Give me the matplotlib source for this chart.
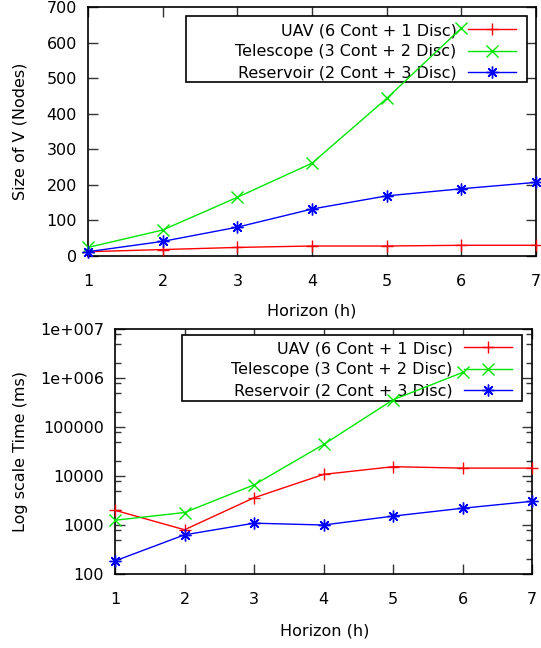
import matplotlib
matplotlib.use('Agg')
import matplotlib.pyplot as plt
from matplotlib.patches import Rectangle
from matplotlib.ticker import FixedLocator, NullFormatter

horizon = [1, 2, 3, 4, 5, 6, 7]
labels = ['UAV (6 Cont + 1 Disc)', 'Telescope (3 Cont + 2 Disc)', 'Reservoir (2 Cont + 3 Disc)']

# size of V (nodes)
uav_nodes = [12, 18, 24, 28, 28, 30, 30]
telescope_nodes = [24, 73, 165, 261, 443, 641]
reservoir_nodes = [12, 41, 81, 132, 169, 189, 207]

# time (ms)
uav_time = [2000, 800, 3600, 10800, 15500, 14500, 14500]
telescope_time = [1250, 1800, 6600, 44000, 360000, 1300000]
reservoir_time = [185, 630, 1090, 1000, 1520, 2200, 3050]

log_ticks = [100, 1000, 10000, 100000, 1000000, 10000000]
log_tick_labels = ['100', '1000', '10000', '100000', '1e+006', '1e+007']

colors = ['#ff0000', '#00e600', '#0000ff']
markers = ['+', 'x', (8, 2, 0)]

plt.rcParams['font.family'] = 'DejaVu Sans'
plt.rcParams['font.size'] = 11.5

fig = plt.figure(figsize=(5.41, 6.48), dpi=100)
ax1 = fig.add_axes([0.1627, 0.605, 0.828, 0.384])
ax2 = fig.add_axes([0.2126, 0.1142, 0.771, 0.378])


def draw(ax, series, box, leg_y):
    for (xs, ys), lab, c, m in zip(series, labels, colors, markers):
        ax.plot(xs, ys, color=c, marker=m, markersize=8.5, markeredgewidth=1,
                linewidth=1, label=lab, clip_on=False, zorder=3)
    ax.set_xlim(1, 7)
    ax.set_xticks(horizon)
    ax.set_xlabel('Horizon (h)')
    ax.tick_params(which='both', direction='in', top=True, right=True,
                   color='#333333', width=1)
    ax.tick_params(which='major', length=7)
    ax.tick_params(axis='x', which='major', pad=13)
    ax.tick_params(axis='y', which='major', pad=8)
    ax.tick_params(which='minor', length=4)
    for s in ax.spines.values():
        s.set_linewidth(1.2)
    x0, y0, x1, y1 = box
    ax.add_patch(Rectangle((x0, y0), x1 - x0, y1 - y0, transform=ax.transAxes,
                           facecolor='white', edgecolor='black', linewidth=1.2, zorder=2))
    leg = ax.legend(loc='upper right', bbox_to_anchor=(x1 - 0.025, leg_y),
                    markerfirst=False, frameon=False, borderpad=0, borderaxespad=0,
                    handlelength=3.0, handletextpad=0.7, labelspacing=0.38, numpoints=1)
    leg.set_zorder(2.5)
    return leg


draw(ax1, [(horizon, uav_nodes), (horizon[:6], telescope_nodes), (horizon, reservoir_nodes)],
     (0.219, 0.699, 0.980, 0.964), 0.936)
ax1.set_ylim(0, 700)
ax1.set_yticks(range(0, 701, 100))
ax1.set_ylabel('Size of V (Nodes)')
ax1.yaxis.set_label_coords(-0.134, 0.5)
ax1.xaxis.set_label_coords(0.5, -0.193)

draw(ax2, [(horizon, uav_time), (horizon[:6], telescope_time), (horizon, reservoir_time)],
     (0.161, 0.706, 0.976, 0.9755), 0.951)
ax2.set_yscale('log')
ax2.set_ylim(100, 1e7)
ax2.set_yticks(log_ticks, log_tick_labels)
minor = [m * 10 ** k for k in range(2, 7) for m in (2, 5, 8)]
ax2.yaxis.set_minor_locator(FixedLocator(minor))
ax2.yaxis.set_minor_formatter(NullFormatter())
ax2.set_ylabel('Log scale Time (ms)')
ax2.yaxis.set_label_coords(-0.209, 0.5)
ax2.xaxis.set_label_coords(0.503, -0.204)

fig.savefig('out.png', dpi=100)
